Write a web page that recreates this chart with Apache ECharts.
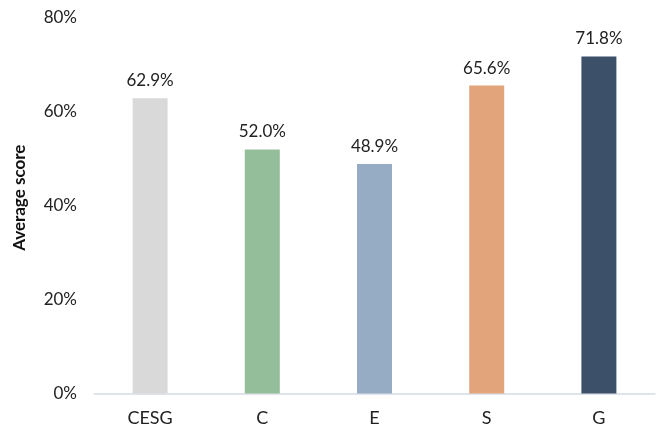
<!DOCTYPE html>
<html>
<head>
<meta charset="utf-8">
<script src="https://cdn.jsdelivr.net/npm/echarts@6/dist/echarts.min.js"></script>
<style>
  html, body { margin: 0; padding: 0; background: #fff; }
  #chart { width: 664px; height: 426px; }
</style>
</head>
<body>
<div id="chart"></div>
<script>
// Average score per pillar
const categories = ['CESG', 'C', 'E', 'S', 'G'];
const scores = [62.9, 52.0, 48.9, 65.6, 71.8];
const barColors = ['#d9d9d9', '#94bd99', '#96abc4', '#e1a47b', '#3c5069'];
const yTicks = [0, 20, 40, 60, 80];

const chart = echarts.init(document.getElementById('chart'));
chart.setOption({
  animation: false,
  textStyle: { fontFamily: 'Lato' },
  grid: { left: 94, right: 9, top: 18, bottom: 32.5, containLabel: false, outerBoundsMode: 'none' },
  xAxis: {
    type: 'category',
    data: categories,
    axisLine: { lineStyle: { color: '#d5dce6', width: 1.5 } },
    axisTick: { show: false },
    axisLabel: { color: '#222', fontSize: 18, margin: 16, fontFamily: 'Lato' }
  },
  yAxis: {
    type: 'value',
    min: yTicks[0],
    max: yTicks[yTicks.length - 1],
    interval: 20,
    name: 'Average score',
    nameLocation: 'middle',
    nameGap: 66,
    nameTextStyle: { color: '#111', fontSize: 17, fontWeight: 'bold', fontFamily: 'Lato', padding: [0, 0, 0, 16] },
    splitLine: { show: false },
    axisLine: { show: false },
    axisTick: { show: false },
    axisLabel: { color: '#222', fontSize: 17, margin: 17, fontFamily: 'Lato', formatter: v => v + '%' }
  },
  series: [{
    type: 'bar',
    barWidth: 35,
    data: scores.map((v, i) => ({ value: v, itemStyle: { color: barColors[i] } })),
    label: {
      show: true,
      position: 'top',
      distance: 9,
      color: '#222',
      fontSize: 17,
      fontFamily: 'Lato',
      formatter: p => p.value.toFixed(1) + '%'
    }
  }]
});
</script>
</body>
</html>
